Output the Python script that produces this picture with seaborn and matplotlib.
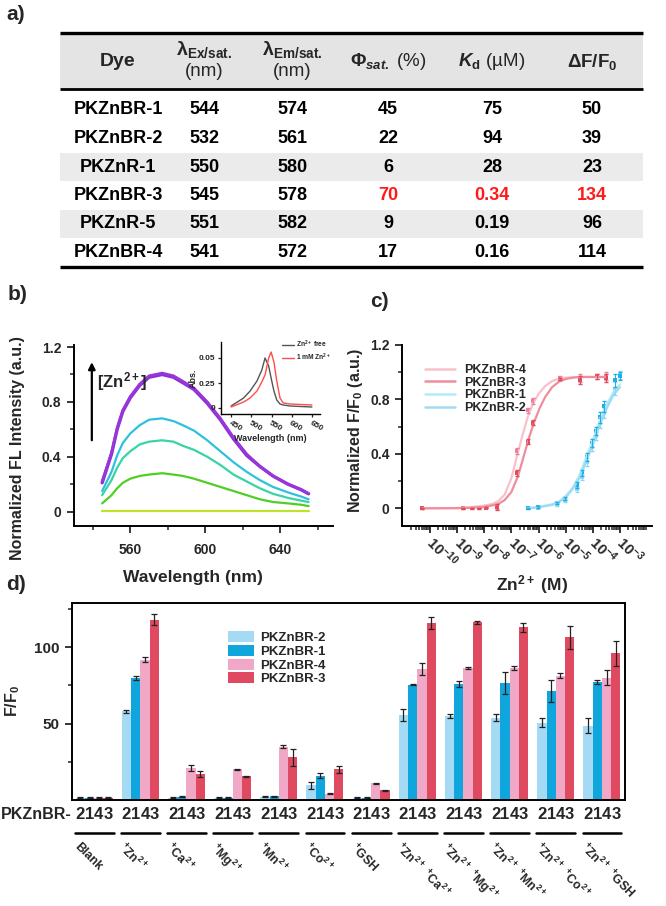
import numpy as np
import pandas as pd
import matplotlib
matplotlib.use("Agg")
import matplotlib.pyplot as plt
import matplotlib.transforms as mtransforms
from matplotlib.patches import Rectangle, Patch
from matplotlib.lines import Line2D
from matplotlib.ticker import FixedLocator, LogLocator, NullFormatter
import seaborn as sns

sns.set_theme(style="ticks")
plt.rcParams['font.family'] = ['Liberation Sans', 'DejaVu Sans']
plt.rcParams['font.weight'] = 'bold'
plt.rcParams['axes.labelweight'] = 'bold'
plt.rcParams['mathtext.fontset'] = 'custom'
plt.rcParams['mathtext.rm'] = 'Liberation Sans'
plt.rcParams['mathtext.it'] = 'Liberation Sans:italic'
plt.rcParams['mathtext.bf'] = 'Liberation Sans:bold'
try:
    plt.rcParams['mathtext.bfit'] = 'Liberation Sans:bold:italic'
except KeyError:
    pass

# ---------------- data ----------------
# a) table
dyes = ["PKZnBR-1", "PKZnBR-2", "PKZnR-1", "PKZnBR-3", "PKZnR-5", "PKZnBR-4"]
lam_ex = [544, 532, 550, 545, 551, 541]
lam_em = [574, 561, 580, 578, 582, 572]
phi_sat = [45, 22, 6, 70, 9, 17]
kd_um = [75, 94, 28, 0.34, 0.19, 0.16]
dff0 = [50, 39, 23, 134, 96, 114]
shaded_rows = [2, 4]
best_row = 3

# b) emission spectra during Zn titration
wl_b = [545, 550, 553, 556, 560, 565, 570, 577, 583, 588, 594, 601, 608, 615, 622, 629, 636, 644, 651, 655]
fl_sat1 = [0.21, 0.42, 0.60, 0.73, 0.83, 0.92, 0.98, 1.00, 0.98, 0.94, 0.89, 0.79, 0.67, 0.53, 0.41, 0.33, 0.26, 0.20, 0.16, 0.13]
fl_sat2 = [0.22, 0.43, 0.61, 0.74, 0.84, 0.93, 0.99, 1.01, 0.99, 0.95, 0.90, 0.80, 0.68, 0.54, 0.42, 0.33, 0.26, 0.20, 0.16, 0.13]
fl_mid3 = [0.15, 0.29, 0.41, 0.50, 0.57, 0.63, 0.67, 0.68, 0.66, 0.63, 0.59, 0.52, 0.44, 0.36, 0.29, 0.23, 0.18, 0.14, 0.11, 0.09]
fl_mid2 = [0.12, 0.23, 0.32, 0.39, 0.44, 0.49, 0.51, 0.52, 0.51, 0.48, 0.45, 0.40, 0.34, 0.27, 0.22, 0.17, 0.13, 0.10, 0.08, 0.07]
fl_mid1 = [0.06, 0.12, 0.17, 0.21, 0.24, 0.26, 0.27, 0.28, 0.27, 0.26, 0.24, 0.21, 0.18, 0.15, 0.12, 0.09, 0.07, 0.06, 0.05, 0.04]
fl_free = [0.005] * len(wl_b)

# b) inset absorbance
wl_abs = [450, 481, 497, 514, 526, 534, 543, 549, 556, 563, 571, 579, 596, 650]
abs_free = [0.02, 0.10, 0.17, 0.27, 0.38, 0.50, 0.42, 0.30, 0.17, 0.08, 0.04, 0.03, 0.02, 0.01]
abs_zn = [0.01, 0.06, 0.10, 0.17, 0.26, 0.33, 0.50, 0.56, 0.46, 0.27, 0.10, 0.05, 0.04, 0.03]

# c) titration (log10 of [Zn2+] in M)
logc_red = [-10.3, -8.77, -8.46, -8.19, -7.95, -7.54, -6.79, -6.39, -6.2, -5.2, -4.47, -3.86, -3.53]
resp_br3 = [0.0, 0.0, 0.0, 0.0, 0.005, 0.01, 0.26, 0.49, 0.63, 0.95, 0.94, 0.97, 0.96]
resp_br4 = [0.0, 0.0, 0.005, 0.005, 0.01, 0.015, 0.42, 0.72, 0.79, 0.96, 0.96, 0.97, 0.97]
err_red = [0.005, 0.005, 0.005, 0.005, 0.005, 0.02, 0.02, 0.02, 0.02, 0.01, 0.03, 0.02, 0.03]
logc_blue = [-6.38, -6.01, -5.33, -5.03, -4.6, -4.41, -4.23, -4.04, -3.88, -3.74, -3.59, -3.18, -3.0]
resp_br1 = [0.0, 0.01, 0.04, 0.07, 0.17, 0.26, 0.38, 0.48, 0.57, 0.67, 0.75, 0.94, 0.97]
resp_br2 = [0.0, 0.005, 0.03, 0.06, 0.14, 0.23, 0.34, 0.45, 0.53, 0.63, 0.70, 0.88, 0.98]
err_blue = [0.005, 0.005, 0.01, 0.01, 0.02, 0.02, 0.03, 0.03, 0.03, 0.04, 0.04, 0.05, 0.03]

fitx_br4 = [-10.26, -9, -8.5, -8, -7.75, -7.5, -7.25, -7, -6.8, -6.6, -6.4, -6.2, -6, -5.75, -5.5, -5.25, -5, -4.5, -3.53]
fity_br4 = [0.0, 0.002, 0.008, 0.02, 0.03, 0.05, 0.1, 0.22, 0.38, 0.53, 0.67, 0.77, 0.84, 0.9, 0.935, 0.952, 0.96, 0.965, 0.965]
fitx_br3 = [-10.26, -9, -8.5, -8, -7.75, -7.5, -7.25, -7, -6.75, -6.55, -6.35, -6.15, -5.95, -5.75, -5.5, -5.25, -5, -4.75, -4.5, -3.53]
fity_br3 = [0.0, 0.001, 0.004, 0.01, 0.02, 0.03, 0.06, 0.12, 0.24, 0.38, 0.52, 0.64, 0.74, 0.82, 0.89, 0.93, 0.95, 0.96, 0.965, 0.965]
fitx_blue = [-6.4, -6, -5.5, -5.25, -5, -4.75, -4.5, -4.25, -4, -3.75, -3.5, -3.25, -3.0]
fity_br1 = [0.0, 0.01, 0.03, 0.05, 0.09, 0.15, 0.24, 0.37, 0.50, 0.64, 0.76, 0.85, 0.91]
fity_br2 = [0.0, 0.008, 0.025, 0.045, 0.08, 0.14, 0.22, 0.34, 0.47, 0.61, 0.73, 0.83, 0.89]

# d) selectivity
groups = ["Blank", "Zn", "Ca", "Mg", "Mn", "Co", "GSH", "Zn+Ca", "Zn+Mg", "Zn+Mn", "Zn+Co", "Zn+GSH"]
group_labels = ["Blank",
                r"$^{\mathbf{+}}$Zn$^{\mathbf{2+}}$", r"$^{\mathbf{+}}$Ca$^{\mathbf{2+}}$",
                r"$^{\mathbf{+}}$Mg$^{\mathbf{2+}}$", r"$^{\mathbf{+}}$Mn$^{\mathbf{2+}}$",
                r"$^{\mathbf{+}}$Co$^{\mathbf{2+}}$", r"$^{\mathbf{+}}$GSH",
                r"$^{\mathbf{+}}$Zn$^{\mathbf{2+}}$ $^{\mathbf{+}}$Ca$^{\mathbf{2+}}$",
                r"$^{\mathbf{+}}$Zn$^{\mathbf{2+}}$ $^{\mathbf{+}}$Mg$^{\mathbf{2+}}$",
                r"$^{\mathbf{+}}$Zn$^{\mathbf{2+}}$ $^{\mathbf{+}}$Mn$^{\mathbf{2+}}$",
                r"$^{\mathbf{+}}$Zn$^{\mathbf{2+}}$ $^{\mathbf{+}}$Co$^{\mathbf{2+}}$",
                r"$^{\mathbf{+}}$Zn$^{\mathbf{2+}}$ $^{\mathbf{+}}$GSH"]
bar_dyes = ["PKZnBR-2", "PKZnBR-1", "PKZnBR-4", "PKZnBR-3"]
bar_digits = ["2", "1", "4", "3"]
ff_br2 = [1.5, 58, 1.5, 1.5, 2, 9.5, 1.5, 55.5, 55, 54, 50.6, 48.6]
ff_br1 = [1.5, 80, 2, 1.5, 2.5, 16, 1.5, 75.6, 76, 76.7, 71.4, 77.4]
ff_br4 = [1.5, 92, 21, 20, 35, 4, 11, 85.8, 86.5, 86.5, 81.5, 80]
ff_br3 = [1.5, 118, 17, 15.5, 28, 20, 6.5, 115.7, 116.5, 113, 106.5, 96]
ffe_br2 = [0.2, 0.8, 0.3, 0.2, 0.3, 2, 0.2, 4, 1.5, 2, 3, 5]
ffe_br1 = [0.2, 1.5, 0.3, 0.2, 0.3, 1.5, 0.2, 0.3, 2, 7, 7, 1.5]
ffe_br4 = [0.2, 1.5, 2, 0.3, 1, 0.3, 0.4, 4, 0.8, 1.5, 1.5, 5]
ffe_br3 = [0.2, 3.5, 2, 0.3, 5.5, 2.5, 0.3, 4, 1, 3, 7.5, 8]

# ---------------- figure ----------------
W, H = 666, 906
fig = plt.figure(figsize=(W / 100, H / 100), dpi=100)


def px_axes(l, t, r, b):
    return fig.add_axes([l / W, 1 - b / H, (r - l) / W, (b - t) / H])


def style_ticks(ax, size=10):
    ax.tick_params(which='major', direction='out', length=5, width=1.3, labelsize=size, pad=4)
    ax.tick_params(which='minor', direction='out', length=3, width=1.1)
    for s in ax.spines.values():
        s.set_linewidth(1.4)
        s.set_color('black')


# a) table drawn in pixel coordinates
tab = fig.add_axes([0, 0, 1, 1])
tab.set_xlim(0, W)
tab.set_ylim(H, 0)
tab.axis('off')
tl, tr = 60, 643
top_line, head_line, bot_line = 33, 89, 267
col_x = [118, 204, 292, 388, 492, 592]
row_y = [110, 138.5, 167, 195.5, 224, 252.5]
tab.add_patch(Rectangle((tl, top_line), tr - tl, head_line - top_line, color='#e4e4e4', lw=0))
for r in shaded_rows:
    tab.add_patch(Rectangle((tl, row_y[r] - 14), tr - tl, 28, color='#ebebeb', lw=0))
tab.hlines([top_line, bot_line], tl, tr, color='black', lw=2.4)
tab.hlines(head_line, tl, tr, color='black', lw=2.0)
hy = (top_line + head_line) / 2
tab.text(col_x[0], hy, "Dye", ha='center', va='center', fontsize=14)
tab.text(col_x[1], hy - 11, r"$\mathbf{λ}_{\mathrm{Ex/sat.}}$", ha='center', va='center', fontsize=14)
tab.text(col_x[2], hy - 11, r"$\mathbf{λ}_{\mathrm{Em/sat.}}$", ha='center', va='center', fontsize=14)
tab.text(col_x[1], hy + 11, "(nm)", ha='center', va='center', fontsize=13.5, fontweight='normal')
tab.text(col_x[2], hy + 11, "(nm)", ha='center', va='center', fontsize=13.5, fontweight='normal')
tab.text(col_x[3], hy + 1, r"$\mathbf{Φ}_{sat.}$ (%)", ha='center', va='center', fontsize=13.5, fontweight='normal')
tab.text(col_x[4], hy + 1, r"$\mathbfit{K}_{\mathrm{d}}$ (µM)", ha='center', va='center', fontsize=13.5, fontweight='normal')
tab.text(col_x[5], hy + 1, r"$\mathbf{ΔF/F_0}$", ha='center', va='center', fontsize=13.5)
for i in range(len(dyes)):
    cells = [dyes[i], lam_ex[i], lam_em[i], phi_sat[i], kd_um[i], dff0[i]]
    for j, v in enumerate(cells):
        col = '#ff1a1a' if (i == best_row and j >= 3) else 'black'
        tab.text(col_x[j], row_y[i], str(v), ha='center', va='center', fontsize=13, color=col)

fig.text(6 / W, 1 - 15 / H, "a)", fontsize=15, ha='left', va='center')
fig.text(8 / W, 1 - 294 / H, "b)", fontsize=15, ha='left', va='center')
fig.text(370 / W, 1 - 302 / H, "c)", fontsize=15, ha='left', va='center')
fig.text(6 / W, 1 - 585 / H, "d)", fontsize=15, ha='left', va='center')

# b) spectra
ax_b = px_axes(74, 345, 333, 526)
b_series = [fl_free, fl_mid1, fl_mid2, fl_mid3, fl_sat1, fl_sat2]
b_colors = ['#bfe22a', '#4fcf25', '#38d3a6', '#2cc2de', '#8b2fdc', '#9a35d8']
b_widths = [1.6, 1.6, 1.6, 1.6, 2.4, 2.0]
for vals, c, lw in zip(b_series, b_colors, b_widths):
    sns.lineplot(x=wl_b, y=vals, color=c, lw=lw, ax=ax_b)
ax_b.set_xlim(530, 668)
ax_b.set_ylim(-0.105, 1.215)
ax_b.xaxis.set_major_locator(FixedLocator([560, 600, 640]))
ax_b.xaxis.set_minor_locator(FixedLocator([540, 580, 620, 660]))
ax_b.yaxis.set_major_locator(FixedLocator([0, 0.4, 0.8, 1.2]))
ax_b.yaxis.set_minor_locator(FixedLocator([0.2, 0.6, 1.0]))
ax_b.set_yticklabels(["0", "0.4", "0.8", "1.2"])
style_ticks(ax_b)
ax_b.tick_params(axis='x', which='major', pad=7)
sns.despine(ax=ax_b)
ax_b.set_xlabel("Wavelength (nm)", fontsize=12.5)
ax_b.xaxis.set_label_coords(0.46, -0.245)
ax_b.set_ylabel("Normalized FL Intensity (a.u.)", fontsize=11.5)
ax_b.yaxis.set_label_coords(-0.19, 0.43)
ax_b.annotate("", xy=(539.5, 1.11), xytext=(539.5, 0.5),
              arrowprops=dict(arrowstyle='-|>', lw=1.6, color='black', mutation_scale=10))
ax_b.text(542.3, 0.95, r"[Zn$^{\mathbf{2+}}$]", fontsize=12, ha='left', va='center')

# b) inset
ax_in = px_axes(221, 342, 320, 414)
ax_in.set_facecolor('none')
sns.lineplot(x=wl_abs, y=abs_free, color='#555555', lw=1.0, ax=ax_in, label="Zn$^{2+}$ free")
sns.lineplot(x=wl_abs, y=abs_zn, color='#ff4d4d', lw=1.0, ax=ax_in, label="1 mM Zn$^{2+}$")
ax_in.set_xlim(425, 670)
ax_in.set_ylim(-0.06, 0.66)
ax_in.set_xticks([450, 500, 550, 600, 650])
ax_in.set_xticklabels(["450", "500", "550", "600", "650"], rotation=-30, ha='left', rotation_mode='anchor')
ax_in.set_yticks([0, 0.25, 0.5])
ax_in.set_yticklabels(["0", "0.25", "0.05"])
ax_in.tick_params(which='major', direction='out', length=2.5, width=0.9, labelsize=6, pad=1.5)
for s in ax_in.spines.values():
    s.set_linewidth(1.0)
    s.set_color('black')
sns.despine(ax=ax_in)
ax_in.set_xlabel("Wavelength (nm)", fontsize=6.5, labelpad=1)
ax_in.set_ylabel("Abs.", fontsize=6.5, labelpad=1)
ax_in.legend(loc='upper right', bbox_to_anchor=(1.14, 1.08), frameon=False, fontsize=4.8,
             handlelength=1.8, handletextpad=0.4, labelspacing=0.2, borderaxespad=0)

# c) titration curves
ax_c = px_axes(402, 345, 652, 526)
ax_c.set_xscale('log')
c_fit = [(fitx_br4, fity_br4, '#f7c2cc', "PKZnBR-4"), (fitx_br3, fity_br3, '#ef8d9c', "PKZnBR-3"),
         (fitx_blue, fity_br1, '#b2ebf8', "PKZnBR-1"), (fitx_blue, fity_br2, '#9fdcf3', "PKZnBR-2")]
for fx, fy, c, lab in c_fit:
    sns.lineplot(x=10.0 ** np.array(fx), y=fy, color=c, lw=1.6, ax=ax_c)
c_pts = [(logc_red, resp_br4, err_red, '#f07e98'), (logc_red, resp_br3, err_red, '#e04a5a'),
         (logc_blue, resp_br2, err_blue, '#8fd6f2'), (logc_blue, resp_br1, err_blue, '#1cb0e6')]
for lx, ry, ey, c in c_pts:
    xx = 10.0 ** np.array(lx)
    ax_c.errorbar(xx, ry, yerr=ey, fmt='none', ecolor=c, elinewidth=0.7, capsize=1.5)
    sns.scatterplot(x=xx, y=ry, color=c, marker='s', s=7, linewidth=0, ax=ax_c)
ax_c.set_xlim(10 ** -11.03, 10 ** -1.82)
ax_c.set_ylim(-0.13, 1.2)
dec = list(range(-10, -2))
ax_c.xaxis.set_major_locator(FixedLocator([10.0 ** d for d in dec]))
ax_c.set_xticklabels([r"$\mathbf{10^{%d}}$" % d for d in dec], rotation=-45, ha='left',
                     va='center', rotation_mode='anchor')
ax_c.xaxis.set_minor_locator(LogLocator(base=10, subs=np.arange(2, 10), numticks=30))
ax_c.xaxis.set_minor_formatter(NullFormatter())
ax_c.yaxis.set_major_locator(FixedLocator([0, 0.4, 0.8, 1.2]))
ax_c.yaxis.set_minor_locator(FixedLocator([0.2, 0.6, 1.0]))
ax_c.set_yticklabels(["0", "0.4", "0.8", "1.2"])
style_ticks(ax_c)
ax_c.tick_params(axis='x', which='major', pad=5, labelsize=10.5)
sns.despine(ax=ax_c)
ax_c.set_xlabel(r"Zn$^{\mathbf{2+}}$ (M)", fontsize=12.5)
ax_c.xaxis.set_label_coords(0.52, -0.26)
ax_c.set_ylabel(r"Normalized F/F$_{\mathbf{0}}$ (a.u.)", fontsize=11.5)
ax_c.yaxis.set_label_coords(-0.15, 0.53)
c_handles = [Line2D([], [], color=c, lw=1.8) for _, _, c, _ in c_fit]
ax_c.legend(c_handles, [lab for _, _, _, lab in c_fit], loc='upper left',
            bbox_to_anchor=((425 - 402) / 250, (526 - 364) / 181), frameon=False, fontsize=9,
            handlelength=2.4, handletextpad=0.7, labelspacing=0.05, borderpad=0, borderaxespad=0)

# d) selectivity bars
ax_d = px_axes(72, 603, 625, 800)
bar_vals = [ff_br2, ff_br1, ff_br4, ff_br3]
bar_errs = [ffe_br2, ffe_br1, ffe_br4, ffe_br3]
bar_colors = ['#a5daf5', '#0fa6de', '#f0a8c6', '#e04a60']
df_d = pd.DataFrame({
    "group": np.repeat([groups], len(bar_dyes), axis=0).ravel(),
    "dye": np.repeat(bar_dyes, len(groups)),
    "ff": np.concatenate(bar_vals),
})
sns.barplot(data=df_d, x="group", y="ff", hue="dye", order=groups, hue_order=bar_dyes,
            palette=bar_colors, width=0.8, errorbar=None, saturation=1, legend=False,
            linewidth=0, ax=ax_d)
blend = mtransforms.blended_transform_factory(ax_d.transData, ax_d.transAxes)
bar_conts = list(ax_d.containers)
for k, cont in enumerate(bar_conts):
    xs = [p.get_x() + p.get_width() / 2 for p in cont]
    ax_d.errorbar(xs, bar_vals[k], yerr=bar_errs[k], fmt='none', ecolor='#222222',
                  elinewidth=0.9, capsize=2.2, capthick=0.9)
    for x in xs:
        ax_d.text(x, -0.075, bar_digits[k], transform=blend, ha='center', va='center', fontsize=12)
for i, lab in enumerate(group_labels):
    ax_d.plot([i - 0.42, i + 0.42], [-0.17, -0.17], transform=blend, color='black', lw=1.8,
              clip_on=False)
    ax_d.text(i - 0.3, -0.205, lab, transform=blend, rotation=-45, rotation_mode='anchor',
              ha='left', va='top', fontsize=8.8)
ax_d.text(0.0, -0.075, "PKZnBR-", transform=ax_d.transAxes, ha='right', va='center',
          fontsize=11.5, fontweight='bold')
ax_d.set_xlim(-0.48, 11.5)
ax_d.set_ylim(0, 129)
ax_d.set_xticks([])
ax_d.set_xlabel("")
ax_d.yaxis.set_major_locator(FixedLocator([50, 100]))
ax_d.yaxis.set_minor_locator(FixedLocator([25, 75, 125]))
style_ticks(ax_d, size=11)
ax_d.set_ylabel(r"F/F$_{\mathbf{0}}$", fontsize=11.5)
ax_d.yaxis.set_label_coords(-0.09, 0.5)
d_handles = [Patch(facecolor=c, edgecolor='none') for c in bar_colors]
ax_d.legend(d_handles, bar_dyes, loc='upper left', bbox_to_anchor=((228 - 72) / 553, (800 - 631) / 197),
            frameon=False, fontsize=9.5, handlelength=2.0, handleheight=0.9, handletextpad=0.4,
            labelspacing=0.06, borderpad=0, borderaxespad=0)

fig.savefig("out.png", dpi=100)
